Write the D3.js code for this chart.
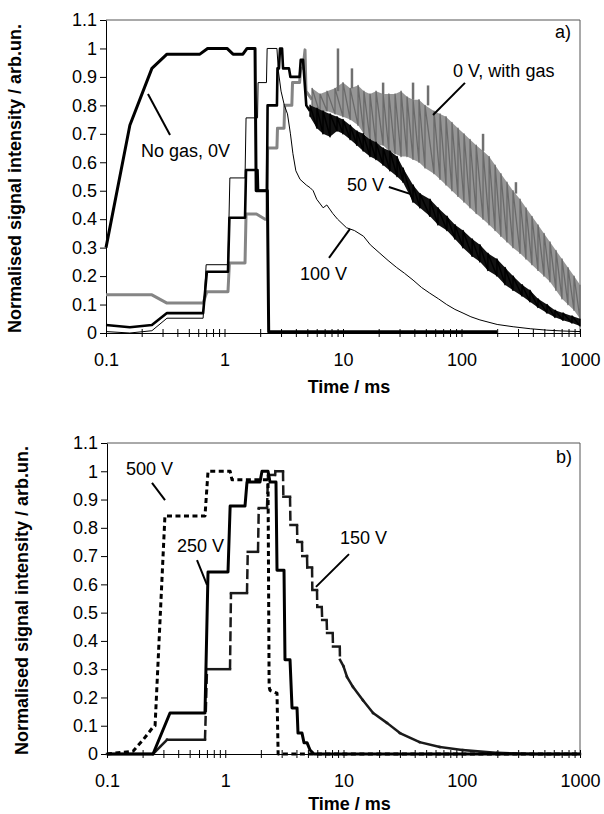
<!DOCTYPE html>
<html>
<head>
<meta charset="utf-8">
<script src="https://cdn.jsdelivr.net/npm/d3@7"></script>
<style>
body{margin:0;background:#fff;}
text{font-family:"Liberation Sans",Arial,sans-serif;}
</style>
</head>
<body>
<div id="theGraph"></div>
<script>
// ticks
const yTicks = [0, 0.1, 0.2, 0.3, 0.4, 0.5, 0.6, 0.7, 0.8, 0.9, 1, 1.1];
const yTickLabels = ["0", "0.1", "0.2", "0.3", "0.4", "0.5", "0.6", "0.7", "0.8", "0.9", "1", "1.1"];
const xTicks = [0.1, 1, 10, 100, 1000];
const xTickLabels = ["0.1", "1", "10", "100", "1000"];

// panel a) [time ms, signal]
const noGas0V = [[0.1,0.30],[0.159,0.73],[0.244,0.93],[0.327,0.98],[0.62,0.98],[0.72,1.0],[1.05,1.0],[1.18,0.98],[1.43,0.98],[1.55,1.0],[1.81,1.0],[1.85,0.50],[2.30,0.50],[2.36,0.004],[200,0.004]];
const v100 = [[0.1,0.005],[0.159,0.0],[0.244,0.008],[0.327,0.052],[0.66,0.052],[0.70,0.24],[1.07,0.24],[1.11,0.545],[1.49,0.545],[1.52,0.756],[1.90,0.756],[1.92,0.88],[2.26,0.88],[2.29,1.0],[2.77,1.0],[2.85,0.92],[3.0,0.85],[3.2,0.80],[3.4,0.77],[3.6,0.70],[3.78,0.63],[4.0,0.57],[4.34,0.54],[4.9,0.52],[5.3,0.51],[5.6,0.50],[6.0,0.47],[6.8,0.44],[7.3,0.45],[8.2,0.42],[9.0,0.40],[10.7,0.37],[12.5,0.36],[14.9,0.34],[17,0.31],[20.5,0.28],[24,0.255],[28.4,0.23],[33,0.21],[39,0.186],[46,0.16],[54,0.14],[64,0.12],[75,0.10],[88,0.083],[103,0.07],[120,0.057],[143,0.046],[200,0.03],[273,0.022],[380,0.015],[523,0.01],[720,0.007],[1000,0.005]];
const v50 = [[0.1,0.028],[0.159,0.02],[0.244,0.028],[0.327,0.07],[0.66,0.07],[0.71,0.215],[1.07,0.215],[1.10,0.405],[1.49,0.405],[1.52,0.573],[1.90,0.573],[1.92,0.50],[2.28,0.50],[2.31,0.80],[2.77,0.80],[2.80,0.93],[2.88,0.93],[2.94,1.0],[3.06,1.0],[3.12,0.93],[3.5,0.93],[3.6,0.90],[4.3,0.90],[4.4,0.96],[4.6,0.96],[4.9,0.80],[5.27,0.78]];
// noisy tail of 50 V: [time, low, high]
const v50Band = [[5.27,0.76,0.80],[6.03,0.72,0.79],[6.78,0.70,0.78],[7.77,0.69,0.77],[8.9,0.71,0.76],[10,0.70,0.75],[11.5,0.68,0.73],[13.1,0.66,0.71],[14.8,0.64,0.70],[16.9,0.62,0.68],[19,0.61,0.67],[21.8,0.59,0.65],[24.9,0.57,0.64],[28.6,0.55,0.62],[32.1,0.53,0.58],[39,0.46,0.52],[44.6,0.44,0.49],[54.2,0.41,0.47],[63.3,0.38,0.44],[75.4,0.36,0.41],[88.1,0.33,0.38],[103,0.30,0.36],[123,0.27,0.33],[143,0.25,0.31],[167,0.22,0.28],[199,0.20,0.26],[233,0.17,0.23],[272,0.15,0.20],[324,0.13,0.17],[378,0.11,0.15],[442,0.09,0.12],[527,0.07,0.10],[615,0.055,0.08],[719,0.045,0.07],[856,0.035,0.06],[1000,0.025,0.05]];
const gas0V = [[0.1,0.134],[0.244,0.134],[0.327,0.105],[0.66,0.105],[0.71,0.145],[1.07,0.145],[1.10,0.246],[1.49,0.246],[1.52,0.418],[1.86,0.418],[2.2,0.40],[2.28,0.40],[2.31,0.65],[2.77,0.65],[2.80,0.72],[3.18,0.72],[3.22,0.80],[3.7,0.80],[3.75,0.88],[4.3,0.88],[4.4,0.93],[4.6,0.93],[4.78,0.995],[4.87,0.85],[5.48,0.82]];
const gasBand = [[5.48,0.78,0.86],[6.4,0.77,0.84],[7.33,0.78,0.85],[8.56,0.77,0.86],[10,0.76,0.88],[11.5,0.75,0.86],[13.4,0.73,0.87],[15,0.70,0.85],[16.9,0.68,0.84],[19,0.66,0.85],[21.8,0.66,0.84],[24.4,0.64,0.84],[27.5,0.63,0.84],[30.9,0.62,0.85],[34.7,0.62,0.83],[39,0.61,0.82],[43.8,0.60,0.82],[49.2,0.58,0.80],[58.6,0.56,0.78],[65.9,0.54,0.77],[74,0.52,0.76],[83.1,0.50,0.74],[93.4,0.48,0.72],[105,0.46,0.70],[118,0.44,0.68],[133,0.42,0.66],[152,0.40,0.64],[171,0.38,0.62],[192,0.36,0.59],[215,0.34,0.56],[242,0.32,0.53],[272,0.30,0.50],[312,0.28,0.47],[350,0.26,0.44],[393,0.24,0.41],[442,0.22,0.38],[497,0.20,0.35],[558,0.18,0.32],[627,0.15,0.29],[705,0.12,0.26],[792,0.10,0.23],[890,0.08,0.20],[1000,0.05,0.17]];
// spikes on the gas trace: [time, base, peak]
const gasSpikes = [[9.07,0.85,1.0],[11.9,0.86,0.93],[21.8,0.84,0.88],[39,0.82,0.88],[52.2,0.80,0.87],[152,0.64,0.70],[288,0.49,0.53]];

// panel b)
const v500 = [[0.1,0],[0.166,0.01],[0.202,0.05],[0.245,0.095],[0.255,0.10],[0.309,0.842],[0.674,0.842],[0.715,1.0],[1.10,1.0],[1.14,0.97],[2.30,0.97],[2.35,0.237],[2.39,0.225],[2.74,0.215],[2.80,0.0],[1000,0]];
const v250 = [[0.1,0],[0.245,0],[0.341,0.145],[0.674,0.145],[0.715,0.644],[1.055,0.644],[1.10,0.877],[1.469,0.877],[1.527,0.962],[1.967,0.962],[2.045,1.0],[2.30,1.0],[2.39,0.962],[2.686,0.962],[2.74,0.65],[3.14,0.65],[3.2,0.333],[3.53,0.333],[3.67,0.163],[4.045,0.163],[4.124,0.074],[4.457,0.074],[4.634,0.04],[4.914,0.04],[5.21,0.014],[5.63,0.0],[1000,0]];
const v150 = [[0.1,0],[0.245,0],[0.322,0.05],[0.674,0.05],[0.701,0.30],[1.097,0.30],[1.118,0.569],[1.527,0.569],[1.55,0.715],[1.892,0.715],[1.92,0.87],[2.255,0.87],[2.30,0.987],[2.635,0.987],[2.66,1.0],[3.079,1.0],[3.10,0.91],[3.53,0.91],[3.56,0.81],[4.045,0.81],[4.07,0.75],[4.457,0.75],[4.48,0.70],[4.914,0.70],[4.94,0.66],[5.42,0.66],[5.45,0.58],[5.97,0.58],[6.0,0.52],[6.55,0.52],[6.6,0.474],[7.2,0.474],[7.26,0.428],[8.1,0.428],[8.15,0.38],[9.3,0.38],[9.34,0.333],[10.0,0.31],[10.7,0.273],[12.0,0.238],[14.6,0.19],[17.8,0.145],[23.3,0.11],[30,0.074],[44,0.042],[65,0.025],[102,0.014],[200,0.004],[400,0.0],[1000,0]];

const width = 604, height = 814;
const svg = d3.select("#theGraph").append("svg").attr("width", width).attr("height", height);

function makePanel(box){
    const x = d3.scaleLog().domain([0.1, 1000]).range([box.left, box.right]);
    const y = d3.scaleLinear().domain([0, 1.1]).range([box.bottom, box.top]);
    const g = svg.append("g");
    g.append("path").attr("d", `M${box.left},${box.top}H${box.right}V${box.bottom}`)
        .attr("fill", "none").attr("stroke", "#555").attr("stroke-width", 1);
    const gx = g.append("g").attr("transform", `translate(0,${box.bottom})`)
        .call(d3.axisBottom(x).tickValues(x.ticks()).tickSizeOuter(0).tickPadding(0)
            .tickFormat(d => { const i = xTicks.findIndex(v => Math.abs(v - d) < 1e-9); return i < 0 ? "" : xTickLabels[i]; }));
    gx.selectAll(".tick line").attr("y1", -4).attr("y2", 4).attr("stroke", "#000");
    gx.selectAll(".tick text").attr("y", 20).attr("font-size", 18).attr("font-family", "Liberation Sans, Arial, sans-serif").attr("fill", "#000");
    gx.select(".domain").attr("stroke", "#000");
    const gy = g.append("g").attr("transform", `translate(${box.left},0)`)
        .call(d3.axisLeft(y).tickValues(yTicks).tickSizeInner(6).tickSizeOuter(0).tickPadding(3)
            .tickFormat((d, i) => yTickLabels[i]));
    gy.selectAll(".tick line").attr("stroke", "#000");
    gy.selectAll(".tick text").attr("font-size", 18).attr("font-family", "Liberation Sans, Arial, sans-serif").attr("fill", "#000");
    gy.select(".domain").attr("stroke", "#000");
    g.append("text").attr("x", (box.left + box.right) / 2 + 6).attr("y", box.bottom + box.titleDy)
        .attr("text-anchor", "middle").attr("font-size", 18).attr("font-weight", "bold").text("Time / ms");
    g.append("text").attr("transform", `translate(${box.titleX},${(box.top + box.bottom) / 2 + 2}) rotate(-90)`)
        .attr("text-anchor", "middle").attr("font-size", 18).attr("font-weight", "bold")
        .text("Normalised signal intensity / arb.un.");
    return {x, y, g};
}

function drawLine(p, data, color, w, dash){
    p.g.append("path").attr("d", d3.line().x(d => p.x(d[0])).y(d => p.y(d[1]))(data))
        .attr("fill", "none").attr("stroke", color).attr("stroke-width", w)
        .attr("stroke-linejoin", "round").attr("stroke-dasharray", dash || null);
}

function drawBand(p, band, fill, stroke, w){
    p.g.append("path").attr("d", d3.area().x(d => p.x(d[0])).y0(d => p.y(d[1])).y1(d => p.y(d[2]))(band))
        .attr("fill", fill);
    const zig = band.flatMap(d => [[d[0], d[1]], [d[0], d[2]]]);
    drawLine(p, zig, stroke, w);
}

// dash only the long vertical jumps, like the original plot
function drawSegments(p, data, color, w, dash){
    p.g.append("g").selectAll("line").data(d3.pairs(data)).join("line")
        .attr("x1", d => p.x(d[0][0])).attr("y1", d => p.y(d[0][1]))
        .attr("x2", d => p.x(d[1][0])).attr("y2", d => p.y(d[1][1]))
        .attr("stroke", color).attr("stroke-width", w)
        .attr("stroke-linecap", d => isVertical(p, d) ? "butt" : "square")
        .attr("stroke-dasharray", d => isVertical(p, d) ? dash : null);
}
function isVertical(p, d){
    return Math.abs(p.x(d[1][0]) - p.x(d[0][0])) < 2.5 && Math.abs(p.y(d[1][1]) - p.y(d[0][1])) > 12;
}

function label(p, t, v, txt){
    p.g.append("text").attr("x", p.x(t)).attr("y", p.y(v)).attr("font-size", 18).text(txt);
}
function leader(p, t1, v1, t2, v2){
    p.g.append("line").attr("x1", p.x(t1)).attr("y1", p.y(v1)).attr("x2", p.x(t2)).attr("y2", p.y(v2))
        .attr("stroke", "#000").attr("stroke-width", 2);
}

// panel a
const pa = makePanel({left: 106, right: 580, top: 20, bottom: 333, titleX: 21, titleDy: 60});
drawLine(pa, gas0V, "#858585", 3);
drawBand(pa, gasBand, "#969696", "#6a6a6a", 1.3);
pa.g.append("g").selectAll("line").data(gasSpikes).join("line")
    .attr("x1", d => pa.x(d[0])).attr("x2", d => pa.x(d[0]))
    .attr("y1", d => pa.y(d[1])).attr("y2", d => pa.y(d[2]))
    .attr("stroke", "#707070").attr("stroke-width", 2.5);
drawLine(pa, v50, "#000", 2.6);
drawBand(pa, v50Band, "#111", "#000", 1.5);
drawLine(pa, v100, "#000", 1);
drawLine(pa, noGas0V, "#000", 3);

label(pa, 0.197, 0.619, "No gas, 0V");
leader(pa, 0.226, 0.840, 0.347, 0.696);
label(pa, 84.8, 0.90, "0 V, with gas");
leader(pa, 107, 0.879, 57.5, 0.766);
label(pa, 10.8, 0.499, "50 V");
leader(pa, 24.4, 0.513, 36.8, 0.489);
label(pa, 4.34, 0.186, "100 V");
leader(pa, 7.62, 0.264, 11.46, 0.366);
label(pa, 615, 1.037, "a)");

// panel b
const pb = makePanel({left: 107, right: 580, top: 443, bottom: 754, titleX: 28, titleDy: 56});
drawSegments(pb, v150, "#1a1a1a", 2.5, "10,4");
drawLine(pb, v500, "#000", 3, "5,3.5");
drawLine(pb, v250, "#000", 3);

label(pb, 0.1448, 0.987, "500 V");
leader(pb, 0.2402, 0.959, 0.3094, 0.898);
label(pb, 0.3908, 0.715, "250 V");
leader(pb, 0.577, 0.686, 0.701, 0.598);
label(pb, 9.34, 0.743, "150 V");
leader(pb, 11.13, 0.707, 5.85, 0.591);
label(pb, 627, 1.029, "b)");
</script>
</body>
</html>
